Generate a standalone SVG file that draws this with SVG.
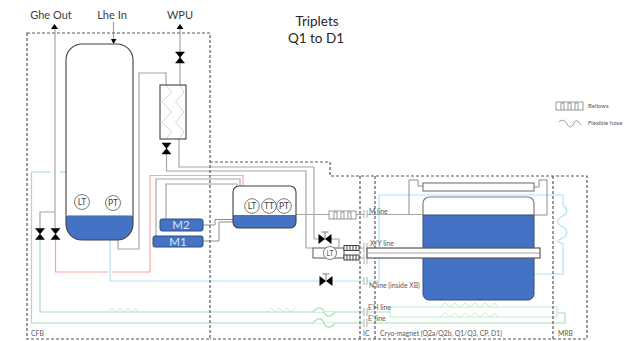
<svg xmlns="http://www.w3.org/2000/svg" width="633" height="341" viewBox="0 0 633 341">
<style>
text{font-family:Lato,"Open Sans","Liberation Sans",sans-serif;fill:#595959}
.h{font-size:11px;fill:#404040}
.t{font-size:13.5px;fill:#262626;text-anchor:middle}
.s{font-size:6.8px}
.l{font-size:6px}
.c{font-size:8.5px;fill:#404040;text-anchor:middle}
.m{font-size:11.5px;fill:#dce6f5;text-anchor:middle}
.p{fill:none;stroke:#a6a6a6;stroke-width:1.2}
.z{fill:none;stroke:#c4c4c4;stroke-width:.7}
.d{fill:none;stroke:#595959;stroke-width:1.2;stroke-dasharray:3 2}
.g{fill:none;stroke:#a5e0bd;stroke-width:1.2}
.gz{fill:none;stroke:#b5e6c8;stroke-width:.7}
.g2{fill:none;stroke:#c5ebd3;stroke-width:1.2}
.r{fill:none;stroke:#ffa3a3;stroke-width:1.2}
.b{fill:none;stroke:#aee3f3;stroke-width:1.2}
.k{fill:none;stroke:#8c8c8c;stroke-width:1}
.i{fill:#fff;stroke:#595959;stroke-width:.8}
.bl{fill:#4472c4;stroke:#2f4f80;stroke-width:1}
.ol{fill:#fff;stroke:#7f7f7f;stroke-width:1.2}
.tk{fill:none;stroke:#a6a6a6;stroke-width:.9}
</style>
<defs>
<g id="v"><path d="M-4.500-5.500H4.500L-4.500 5.500H4.500Z" fill="#000" stroke="#000" stroke-width=".5"/></g>
<g id="vh"><path d="M-6.500-5V5L6.500-5V5Z" fill="#000"/><path d="M0 0V-7M-3.500-7H3.500" fill="none" stroke="#7f7f7f" stroke-width="1"/></g>
<g id="bel"><rect x="0" y="0" width="27" height="8" fill="#fff" stroke="#7f7f7f" stroke-width=".8"/><path d="M5 8V1H8V8M12 8V1H15V8M19 8V1H22V8" fill="none" stroke="#7f7f7f" stroke-width=".8"/></g>
<g id="sb"><rect x="0" y="0" width="15" height="5" fill="#fff" stroke="#404040" stroke-width="1"/><path d="M3 0V5M6 0V5M9 0V5M12 0V5" stroke="#404040" stroke-width="1"/></g>
</defs>

<g id="connectors">
<path class="p" d="M55 28V228"/>
<path class="p" d="M113.500 22V41"/>
<path class="p" d="M180 28V85"/>
<path class="p" d="M40 228V212H55"/>
<path class="g" d="M40 240V312H363"/>
<path class="g" d="M51 172H31.500V323H363"/>
<path class="g" d="M60 172H66"/>
<path class="r" d="M55.500 240V272H108M112 272H150V175.500H243V186"/>
<path class="b" d="M110 240V281H363M367 281H379V195H563V205"/>
<path class="b" d="M563 205C568 209 568 213 563 216C556 219 556 224 563 227C568 230 568 235 563 238C556 241 556 241 563 244V274H534"/>
<path class="p" d="M118 240V249H139V73H166V85"/>
<path class="z" d="M166 85L171.500 92L162 102L171.500 112L162 122L171.500 132L166 139"/>
<path class="z" d="M180 85L184 92L175.500 102L184 112L175.500 122L184 132L179 139"/>
<path class="p" d="M166.500 143V171H306V248H313"/>
<path class="p" d="M179 139V167H314V239H319M331 239H339V247"/>
<path class="p" d="M166 219V184H237V186"/>
<path class="p" d="M156 236V179H240V186"/>
<path class="k" d="M203 225H215V219.500H233"/>
<path class="k" d="M203 241H219V222H233"/>
<path class="p" d="M296 214.500H329M356 214.500H364M367 214.500H423"/>
<path class="k" d="M409 214V180H418V186H423"/>
<path class="k" d="M534 187H539V180H547V215H534"/>
<path class="g" d="M367 312H390M367 323H565V313H557"/>
<path class="g2" d="M390 312V307H557V317H390V312"/>
<path class="gz" d="M108 312L112 308L116 312L120 308L124 312L128 308L132 312L136 308L138 312"/>
<path class="gz" d="M267 312L271 308L275 312L279 308L283 312L287 308L291 312L295 308"/>
<path class="gz" d="M440 307L445 303L450 307L455 303L460 307L465 303L470 307L475 303L480 307L485 303L490 307L495 303L498 307"/>
<path class="gz" d="M440 317L445 313L450 317L455 313L460 317L465 313L470 317L475 313L480 317L485 313L490 317L495 313L498 317"/>
<path d="M313 312C318 306 322 307 324 312C326 317 330 318 335 312" fill="#fff" stroke="#a5e0bd" stroke-width="1.200"/>
<path d="M313 323C318 317 322 318 324 323C326 328 330 329 335 323" fill="#fff" stroke="#a5e0bd" stroke-width="1.200"/>
<path class="tk" d="M364 210V218M367 210V218M364 243V253M367 243V253M364 254V264M367 254V264M364 277V285M367 277V285M364 308V316M367 308V316M364 319V327M367 319V327"/>
</g>

<g id="cfb"><rect class="d" x="27" y="33" width="183" height="306"/><text class="s" x="31" y="336">CFB</text></g>
<g id="ic-boundary"><path class="d" d="M210 162H330V176H587V339H210M360 176V339M375 176V339M553 176V339"/><text class="s" x="363" y="336">IC</text></g>
<g id="cryo-label"><text class="s" x="380" y="336">Cryo-magnet (Q2a/Q2b, Q1/Q3, CP, D1)</text></g>
<g id="mrb"><text class="s" x="558" y="336">MRB</text></g>

<g id="ghe-out"><path d="M51 29L54.500 24L58 29Z" fill="#000"/><text class="h" x="51" y="18.500" text-anchor="middle">Ghe Out</text></g>
<g id="lhe-in"><path d="M111 39H116.500L113.500 44Z" fill="#000"/><text class="h" x="112" y="18.500" text-anchor="middle">Lhe In</text></g>
<g id="wpu"><path d="M176.500 29L180 24L183.500 29Z" fill="#000"/><text class="h" x="180" y="18.500" text-anchor="middle">WPU</text></g>
<g id="title"><text class="t" x="317" y="26">Triplets</text><text class="t" x="316" y="43">Q1 to D1</text></g>

<g id="main-vessel">
<path d="M66 216V224A16 16 0 0 0 82 240H117A16 16 0 0 0 133 224V216Z" fill="#4472c4"/>
<rect x="66" y="44" width="67" height="196" rx="16" fill="none" stroke="#404040" stroke-width="1.100"/>
<path d="M66 215.500H133" stroke="#8fb0e0" stroke-width="1"/>
<circle class="i" cx="82" cy="202" r="7.500"/><text class="c" x="82" y="205">LT</text>
<circle class="i" cx="113" cy="203" r="7.500"/><text class="c" x="113" y="206">PT</text>
</g>
<g id="heat-exchanger"><rect x="160" y="85" width="26" height="54" fill="none" stroke="#404040" stroke-width="1.100"/></g>
<g id="valve-wpu"><use href="#v" x="180" y="57.500"/></g>
<g id="valve-hx"><use href="#v" x="166.500" y="148.500"/></g>
<g id="valve-l"><use href="#v" x="40" y="234"/></g>
<g id="valve-r"><use href="#v" x="55.500" y="234"/></g>
<g id="m2"><rect class="bl" x="160" y="219" width="43" height="12" rx="2"/><text class="m" x="181" y="229">M2</text></g>
<g id="m1"><rect class="bl" x="153" y="236" width="50" height="11" rx="2"/><text class="m" x="178" y="245.500">M1</text></g>
<g id="tank">
<path d="M233 215V222A6 6 0 0 0 239 228H290A6 6 0 0 0 296 222V215Z" fill="#4472c4"/>
<rect x="233" y="186" width="63" height="42" rx="6" fill="none" stroke="#404040" stroke-width="1.100"/>
<circle class="i" cx="252" cy="206" r="7.300"/><text class="c" x="252" y="209">LT</text>
<circle class="i" cx="269" cy="206" r="7.300"/><text class="c" x="269" y="209">TT</text>
<circle class="i" cx="284" cy="206" r="7.300"/><text class="c" x="284" y="209">PT</text>
</g>
<g id="m-bellows"><use href="#bel" x="329" y="211"/><text class="s" x="369" y="214">M line</text></g>
<g id="magnet">
<path d="M423 215V294A6 6 0 0 0 429 300H528A6 6 0 0 0 534 294V215Z" fill="#4472c4" stroke="#2f4f80" stroke-width="1"/>
<path d="M423 215V203A6 6 0 0 1 429 197H528A6 6 0 0 1 534 203V215" fill="none" stroke="#7f7f7f" stroke-width="1.200"/>
<rect class="ol" x="423" y="183" width="111" height="8"/>
</g>
<g id="xy-pipe">
<rect x="367" y="248" width="173" height="10" fill="#fff" stroke="#595959" stroke-width="1.200"/>
<path d="M359 248H364M359 258H364M367 253H540" stroke="#a6a6a6" stroke-width="1"/>
<rect x="313" y="248" width="31" height="10" fill="#fff" stroke="#595959" stroke-width="1"/>
<circle class="i" cx="330" cy="253" r="6.500"/><text class="s" x="330" y="255.500" text-anchor="middle">LT</text>
<use href="#sb" x="344" y="245.500"/><use href="#sb" x="344" y="255"/>
<text class="s" x="370" y="246">X/Y line</text>
</g>
<g id="valve-xy"><use href="#vh" x="325" y="239"/></g>
<g id="valve-n"><use href="#vh" x="326" y="281"/></g>
<g id="line-labels">
<text class="s" x="369" y="288">N line (inside XB)</text>
<text class="s" x="368" y="310">E'H line</text>
<text class="s" x="368" y="321">E' line</text>
</g>
<g id="legend">
<use href="#bel" x="556" y="102"/><text class="l" x="588" y="108">Bellows</text>
<path d="M559 122C562 119 565 120 567 124C569 128 572 128 574 123C576 119 578 121 581 125" fill="none" stroke="#7f7f7f" stroke-width=".8"/>
<text class="l" x="588" y="125">Flexible hose</text>
</g>
</svg>
